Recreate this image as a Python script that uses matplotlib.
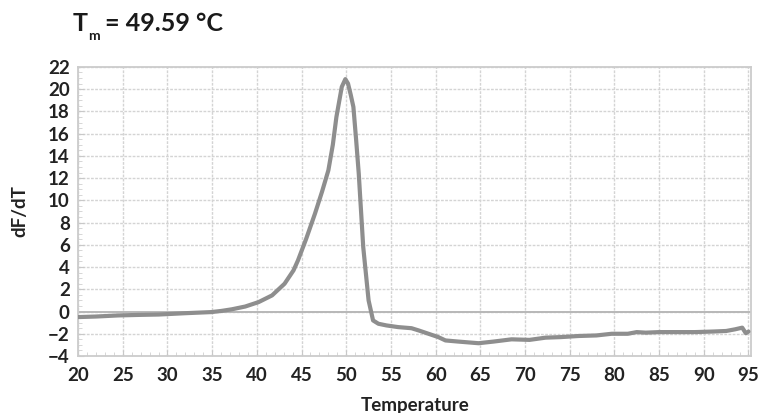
import numpy as np
import matplotlib.pyplot as plt
from matplotlib.ticker import MultipleLocator

plt.rcParams['font.family'] = ['Lato', 'DejaVu Sans']

# melt curve derivative
temp = [20, 22, 24.5, 27, 29, 32, 34.9, 36, 37.2, 38.7, 40.2, 41.7, 43.1, 44.1,
        44.6, 45.5, 46.5, 47.3, 48.0, 48.5, 48.9, 49.5, 49.9, 50.2, 50.5, 50.8,
        51.1, 51.4, 51.9, 52.5, 53.0, 53.6, 54.5, 55.8, 57.3, 58.1, 59.2, 60.3,
        61.1, 62.5, 64.8, 66.5, 68.5, 70.5, 72.3, 74, 76, 78, 79.7, 81.5, 82.5,
        83.5, 85, 87.2, 89, 91, 92.5, 93.5, 94.3, 94.7, 95]
dfdt = [-0.5, -0.45, -0.35, -0.3, -0.27, -0.15, -0.05, 0.05, 0.2, 0.45, 0.85,
        1.45, 2.5, 3.7, 4.6, 6.5, 8.8, 10.8, 12.7, 15.0, 17.5, 20.2, 20.9, 20.5,
        19.5, 18.4, 15.5, 12.4, 5.8, 1.0, -0.8, -1.1, -1.25, -1.4, -1.5, -1.7,
        -2.0, -2.3, -2.6, -2.7, -2.85, -2.7, -2.5, -2.55, -2.35, -2.3, -2.2,
        -2.15, -2.0, -2.0, -1.85, -1.9, -1.85, -1.85, -1.85, -1.8, -1.75, -1.6,
        -1.45, -1.95, -1.8]

x_ticks = np.arange(20, 96, 5)
y_ticks = np.arange(-4, 23, 2)

fig = plt.figure(figsize=(7.58, 4.13), dpi=100)
ax = fig.add_axes([0.103, 0.138, 0.888, 0.700])

ax.plot(temp, dfdt, color='#8e8e8e', lw=3.0, solid_capstyle='round',
        solid_joinstyle='round', zorder=3)
ax.axhline(0, color='#b8b8b8', lw=1.4, zorder=2)

ax.set_xlim(20, 95.3)
ax.set_ylim(-4, 22)
ax.set_xticks(x_ticks)
ax.set_yticks(y_ticks)
ax.xaxis.set_minor_locator(MultipleLocator(1))
ax.yaxis.set_minor_locator(MultipleLocator(0.5))

ax.grid(True, which='major', color='#d4d4d4', lw=1.0, ls=(0, (2, 1)))
ax.tick_params(which='major', length=4, color='#c8c8c8', direction='in',
               labelsize=13.5, labelcolor='#222222')
ax.tick_params(axis='x', which='major', pad=8)
ax.tick_params(axis='y', which='major', pad=6)
ax.tick_params(which='minor', length=3, color='#d0d0d0', direction='in')
for lbl in ax.get_xticklabels() + ax.get_yticklabels():
    lbl.set_fontweight('bold')
for s in ax.spines.values():
    s.set_color('#cccccc')
    s.set_linewidth(1.3)

ax.set_xlabel('Temperature', fontsize=13.5, fontweight='bold', color='#222222', labelpad=9)
ax.set_ylabel('dF/dT', fontsize=13.5, fontweight='bold', color='#222222', labelpad=14)

# title with a low, small subscript as in the reference
fig.text(0.096, 0.942, 'T', fontsize=18, fontweight='bold', color='#1a1a1a',
         ha='left', va='center')
fig.text(0.116, 0.912, 'm', fontsize=10, fontweight='bold', color='#1a1a1a',
         ha='left', va='center')
fig.text(0.139, 0.942, '= 49.59 °C', fontsize=18, fontweight='bold', color='#1a1a1a',
         ha='left', va='center')

plt.savefig('out.png', dpi=100)
plt.close()
